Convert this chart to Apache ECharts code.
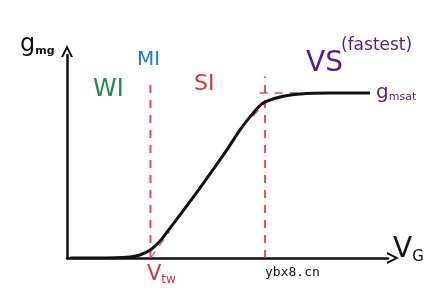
<!DOCTYPE html>
<html><head><meta charset="utf-8">
<script src="https://cdn.jsdelivr.net/npm/echarts@6/dist/echarts.min.js"></script>
<style>html,body{margin:0;padding:0;background:#fff}#c{width:443px;height:304px}</style>
</head><body><div id="c"></div>
<script>
// gate voltage (arbitrary units) and transconductance (normalised to gm,sat)
const vg = [0.1, 1.0, 1.96, 2.27, 2.59, 2.90, 3.12, 3.52, 4.14, 4.98, 5.39, 5.70, 6.11, 6.64, 7.26, 8.19, 9.44];
const gm = [0.0, 0.0, 0.006, 0.018, 0.048, 0.103, 0.158, 0.261, 0.424, 0.655, 0.776, 0.855, 0.939, 0.976, 0.994, 1.0, 1.0];
// region boundaries
const boundaries = [2.6, 6.17];
const boundaryTop = [1.07, 1.1];
// tangent construction lines
const tangentLow = [[2.6, 0.0], [3.2, 0.16]];
const tangentHigh = [[5.8, 0.86], [6.2, 0.95]];
const satLine = [[6.0, 1.0], [7.3, 1.0]];
// texts
const regionLabels = ['WI', 'MI', 'SI', 'VS', '(fastest)'];
const axisTexts = ['g', 'mg', 'V', 'G', 'tw', 'msat', 'ybx8.cn'];

const red = '#e0303c';
const chevron = 'path://M0,10 L5,0 L10,10 L8.2,10 L5,3.6 L1.8,10 Z';
const chart = echarts.init(document.getElementById('c'));
const dash = (name, pts, w) => ({
  type: 'line', name, data: pts, symbol: 'none', silent: true,
  lineStyle: { color: red, width: w, type: [8, 7], opacity: 0.85 }
});
chart.setOption({
  animation: false,
  grid: { left: 67, right: 55, top: 55, bottom: 46 },
  xAxis: {
    type: 'value', min: 0, max: 10,
    axisLine: { show: true, symbol: ['none', chevron], symbolSize: [13, 12], symbolOffset: [0, 5],
      lineStyle: { color: '#111', width: 2.5 } },
    axisTick: { show: false }, axisLabel: { show: false }, splitLine: { show: false }
  },
  yAxis: {
    type: 'value', min: 0, max: 1.23,
    axisLine: { show: true, onZero: false, symbol: ['none', chevron], symbolSize: [13, 12], symbolOffset: [0, 4],
      lineStyle: { color: '#111', width: 2.5 } },
    axisTick: { show: false }, axisLabel: { show: false }, splitLine: { show: false }
  },
  series: [
    dash('vt', [[boundaries[0], 0], [boundaries[0], boundaryTop[0]]], 2),
    dash('vsat', [[boundaries[1], 0], [boundaries[1], boundaryTop[1]]], 2),
    dash('tl', tangentLow, 1.2),
    dash('th', tangentHigh, 1.5),
    dash('sat', satLine, 1.5),
    {
      type: 'line', name: 'gm', data: vg.map((x, i) => [x, gm[i]]),
      smooth: 0.3, symbol: 'none', silent: true,
      lineStyle: { color: '#111', width: 3 }
    }
  ],
  graphic: [
    { type: 'text', left: 20, top: 33, style: { text: '{a|' + axisTexts[0] + '}{b|' + axisTexts[1] + '}',
      rich: { a: { fontSize: 24, fontFamily: 'DejaVu Sans', fill: '#111', verticalAlign: 'bottom' },
              b: { fontSize: 11, fontFamily: 'DejaVu Sans', fill: '#111', fontWeight: 'bold', padding: [12, 0, 0, 0] } } } },
    { type: 'text', left: 393, top: 236, style: { text: '{a|' + axisTexts[2] + '}{b|' + axisTexts[3] + '}',
      rich: { a: { fontSize: 28, fontFamily: 'DejaVu Sans', fill: '#111' },
              b: { fontSize: 15, fontFamily: 'DejaVu Sans', fill: '#111', padding: [14, 0, 0, 0] } } } },
    { type: 'text', left: 147, top: 264, style: { text: '{a|' + axisTexts[2] + '}{b|' + axisTexts[4] + '}',
      rich: { a: { fontSize: 21, fontFamily: 'DejaVu Sans', fill: red },
              b: { fontSize: 12, fontFamily: 'DejaVu Sans', fill: red, padding: [10, 0, 0, 0] } } } },
    { type: 'text', left: 376, top: 83, style: { text: '{a|' + axisTexts[0] + '}{b|' + axisTexts[5] + '}',
      rich: { a: { fontSize: 20, fontFamily: 'DejaVu Sans', fill: '#5a1a8c' },
              b: { fontSize: 11, fontFamily: 'DejaVu Sans', fill: '#5a1a8c', padding: [8, 0, 0, 0] } } } },
    { type: 'text', left: 93, top: 78, style: { text: regionLabels[0], fontSize: 24, fontFamily: 'DejaVu Sans', fill: '#1f8a52' } },
    { type: 'text', left: 137, top: 50, style: { text: regionLabels[1], fontSize: 20, fontFamily: 'DejaVu Sans', fill: '#1a7fd0' } },
    { type: 'text', left: 194, top: 73, style: { text: regionLabels[2], fontSize: 22, fontFamily: 'DejaVu Sans', fill: red } },
    { type: 'text', left: 306, top: 50, style: { text: regionLabels[3], fontSize: 28, fontFamily: 'DejaVu Sans', fill: '#5a1a8c' } },
    { type: 'text', left: 341, top: 37, style: { text: regionLabels[4], fontSize: 17, fontFamily: 'DejaVu Sans', fill: '#5a1a8c' } },
    { type: 'text', left: 265, top: 266, style: { text: axisTexts[6], fontSize: 13, fontFamily: 'DejaVu Sans Mono', fill: '#111' } }
  ]
});
</script></body></html>
